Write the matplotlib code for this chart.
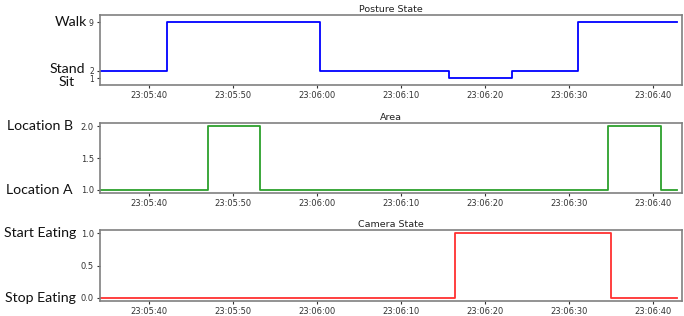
import pandas as pd
import matplotlib
matplotlib.use('Agg')
import matplotlib.pyplot as plt
import matplotlib.dates as mdates

# Data
day = '2023-01-01 '
posture_times = ['23:05:34.2', '23:05:42.2', '23:06:00.4', '23:06:15.8', '23:06:23.3', '23:06:31.1', '23:06:42.9']
posture_vals = [2, 9, 2, 1, 2, 9, 9]

area_times = ['23:05:34.2', '23:05:47.1', '23:05:53.3', '23:06:34.7', '23:06:41.0', '23:06:42.9']
area_vals = [1, 2, 1, 2, 1, 1]

camera_times = ['23:05:34.2', '23:06:16.5', '23:06:35.0', '23:06:42.9']
camera_vals = [0, 1, 0, 0]

x_start = '23:05:34.2'
x_end = '23:06:43.5'

def to_dt(ts):
    return pd.to_datetime([day + t for t in ts])

W, H = 684, 316
fig = plt.figure(figsize=(W / 100, H / 100), dpi=100)

# axes boxes in pixels: (top, bottom)
left_px, right_px = 100, 682
boxes = [(15, 85), (123, 193), (230, 301)]

panels = [
    ('Posture State', posture_times, posture_vals, 'blue', [1, 2, 9], ['1', '2', '9'], (0, 10)),
    ('Area', area_times, area_vals, '#2ca02c', [1.0, 1.5, 2.0], ['1.0', '1.5', '2.0'], None),
    ('Camera State', camera_times, camera_vals, '#ff3030', [0.0, 0.5, 1.0], ['0.0', '0.5', '1.0'], None),
]

# big annotation labels: (text, y value, right edge px)
big_labels = [
    [('Walk', 9, 87), ('Stand', 2.35, 85), ('Sit', 0.5, 74)],
    [('Location B', 2.0, 73), ('Location A', 1.0, 73)],
    [('Start Eating', 1.0, 76), ('Stop Eating', 0.0, 76)],
]

for i, (title, ts, vals, col, yt, ytl, ylim) in enumerate(panels):
    top, bot = boxes[i]
    ax = fig.add_axes([left_px / W, 1 - bot / H, (right_px - left_px) / W, (bot - top) / H])
    ax.step(to_dt(ts), vals, where='post', color=col, lw=1.3)
    ax.set_xlim(pd.Timestamp(day + x_start), pd.Timestamp(day + x_end))
    if ylim is not None:
        ax.set_ylim(*ylim)
    ax.set_yticks(yt)
    ax.set_yticklabels(ytl)
    ax.xaxis.set_major_locator(mdates.SecondLocator(bysecond=range(0, 60, 10)))
    ax.xaxis.set_major_formatter(mdates.DateFormatter('%H:%M:%S'))
    ax.tick_params(labelsize=6, length=2.5, width=0.8, colors='#333333', pad=2)
    if i == 0:
        ax.tick_params(axis='y', labelsize=5.5)
    for s in ax.spines.values():
        s.set_color('#808080')
        s.set_linewidth(1.2)
    ax.set_title(title, fontsize=6.8, pad=2.5, color='#222222')
    for txt, yv, rx in big_labels[i]:
        if txt == 'Sit':
            ax.text((67 - left_px) / (right_px - left_px), yv, txt, transform=ax.get_yaxis_transform(),
                    ha='center', va='center', fontsize=10.2, family='Lato', color='#111111')
        else:
            ax.text((rx - left_px) / (right_px - left_px), yv, txt, transform=ax.get_yaxis_transform(),
                    ha='right', va='center', fontsize=10.2, family='Lato', color='#111111')

fig.savefig('out.png', dpi=100)
